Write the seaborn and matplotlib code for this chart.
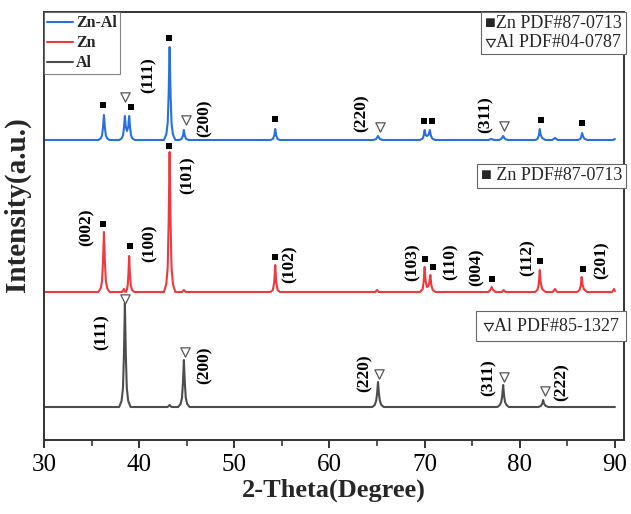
import matplotlib
matplotlib.use("Agg")
import matplotlib.pyplot as plt
from matplotlib.ticker import MultipleLocator
import seaborn as sns
import pandas as pd

# ---------------- data ----------------
samples = ["Zn-Al", "Zn", "Al"]
colors = {"Zn-Al": "#2a6fe0", "Zn": "#f0393c", "Al": "#4d4d4d"}
offsets = {"Zn-Al": 300, "Zn": 148, "Al": 33}

znal_2theta = [30.0,
               35.7, 35.95, 36.1, 36.2, 36.3, 36.4, 36.5, 36.65, 36.9,
               37.9, 38.15, 38.3, 38.4, 38.5, 38.6, 38.72, 38.85, 38.95, 39.05, 39.15, 39.3, 39.55,
               42.6, 42.85, 43.0, 43.1, 43.2, 43.3, 43.4, 43.55, 43.8,
               44.2, 44.45, 44.6, 44.7, 44.8, 44.95, 45.2,
               53.8, 54.05, 54.2, 54.3, 54.4, 54.55, 54.8,
               64.6, 64.9, 65.1, 65.3, 65.6,
               69.5, 69.8, 69.9, 70.0, 70.1, 70.25, 70.4, 70.55, 70.65, 70.8, 71.1,
               76.7, 77.0, 77.3,
               77.8, 78.05, 78.25, 78.45, 78.75,
               81.6, 81.85, 82.0, 82.1, 82.2, 82.35, 82.7,
               83.4, 83.7, 84.0,
               86.1, 86.35, 86.45, 86.55, 86.65, 86.8, 87.1,
               89.8, 90.0]
znal_intensity = [0,
                  0, 1.5, 4.5, 12.5, 25, 12.5, 4.5, 1.5, 0,
                  0, 1.5, 4.5, 12, 24, 13, 9, 13, 24, 12, 4.5, 1.5, 0,
                  0, 5.5, 17, 46, 93, 46, 17, 5.5, 0,
                  0, 1, 4, 10, 4, 1, 0,
                  0, 1, 4.5, 11, 4.5, 1, 0,
                  0, 1, 4, 1, 0,
                  0, 1.5, 4.5, 10, 5, 4, 5, 10, 4.5, 1.5, 0,
                  0, 1, 0,
                  0, 1, 4, 1, 0,
                  0, 1, 4.5, 11, 5, 2, 0,
                  0, 2, 0,
                  0, 1, 3, 7, 3.5, 1.2, 0,
                  0, 1]

zn_2theta = [30.0,
             35.7, 35.95, 36.1, 36.2, 36.3, 36.4, 36.5, 36.65, 36.9,
             38.2, 38.4, 38.55,
             38.6, 38.7, 38.8, 38.87, 38.95, 39.03, 39.12, 39.25, 39.5,
             42.6, 42.85, 43.0, 43.1, 43.2, 43.3, 43.4, 43.55, 43.8,
             44.5, 44.7, 44.9,
             53.8, 54.05, 54.2, 54.3, 54.4, 54.55, 54.8,
             64.8, 65.0, 65.2,
             69.5, 69.8, 69.9, 70.0, 70.1, 70.25, 70.4, 70.5, 70.6, 70.7, 70.85, 71.15,
             76.7, 76.9, 77.05, 77.2, 77.45,
             78.1, 78.3, 78.5,
             81.6, 81.85, 82.0, 82.1, 82.2, 82.35, 82.7,
             83.45, 83.7, 83.95,
             86.0, 86.25, 86.4, 86.5, 86.6, 86.75, 87.1,
             89.7, 89.9, 90.0]
zn_intensity = [0,
                0, 3.5, 11, 30, 60, 30, 11, 3.5, 0,
                0, 3, 0,
                0, 2, 7, 18, 36, 18, 7, 2, 0,
                0, 8, 25, 70, 140, 70, 25, 8, 0,
                0, 2, 0,
                0, 2, 10, 27, 10, 2, 0,
                0, 2, 0,
                0, 3, 11, 25, 11, 5, 6, 10, 17, 7, 2, 0,
                0, 2, 5, 2, 0,
                0, 2, 0,
                0, 2, 8, 22, 9, 3, 0,
                0, 3, 0,
                0, 1.5, 6, 15, 7, 2.5, 0,
                0, 3, 1]

al_2theta = [30.0,
             37.9, 38.15, 38.3, 38.4, 38.5, 38.6, 38.7, 38.85, 39.1,
             43.0, 43.2, 43.4,
             44.1, 44.35, 44.5, 44.6, 44.7, 44.8, 44.9, 45.05, 45.3,
             64.5, 64.75, 64.9, 65.0, 65.1, 65.2, 65.3, 65.45, 65.7,
             77.65, 77.9, 78.05, 78.15, 78.25, 78.35, 78.45, 78.6, 78.85,
             81.95, 82.2, 82.35, 82.45, 82.55, 82.7, 83.0,
             90.0]
al_intensity = [0,
                0, 6, 19, 52, 104, 52, 19, 6, 0,
                0, 2, 0,
                0, 3, 9, 24, 47, 24, 9, 3, 0,
                0, 2, 6, 13, 25, 13, 6, 2, 0,
                0, 2, 5, 11, 22, 11, 5, 2, 0,
                0, 1, 3, 7, 3.5, 1.2, 0,
                0]

# reference-phase markers (2-theta, height on the stacked axis)
zn_mark_2theta = [36.2, 39.1, 43.1, 54.3, 69.9, 70.8, 82.2, 86.5,
                  36.2, 39.0, 43.1, 54.3, 70.0, 70.9, 77.1, 82.1, 86.6]
zn_mark_y = [335, 333, 402, 321, 319, 319, 320, 317,
             216, 194, 294, 183, 181, 173, 161, 179, 171]
al_mark_2theta = [38.5, 44.9, 65.3, 78.3,
                  38.5, 44.8, 65.2, 78.3, 82.6]
al_mark_y = [343, 320, 313, 314,
             141, 88, 66, 63, 49]

# (hkl) labels
hkl_text = ["(111)", "(200)", "(220)", "(311)",
            "(002)", "(100)", "(101)", "(102)", "(103)", "(110)", "(004)", "(112)", "(201)",
            "(111)", "(200)", "(220)", "(311)", "(222)"]
hkl_2theta = [40.95, 46.9, 63.4, 76.4,
              34.5, 41.1, 45.1, 55.85, 68.7, 72.7, 75.5, 80.8, 88.6,
              36.1, 46.9, 63.7, 76.7, 84.4]
hkl_y = [365, 322, 327, 325,
         213, 197, 265, 176, 178, 178, 173, 182, 180,
         108, 75, 67, 62, 58]

# ---------------- figure ----------------
sns.set_theme(style="white")
plt.rcParams["font.family"] = ["Liberation Serif", "DejaVu Serif"]
plt.rcParams["mathtext.fontset"] = "stix"

rows = []
for name, xs, ys in [("Zn-Al", znal_2theta, znal_intensity),
                     ("Zn", zn_2theta, zn_intensity),
                     ("Al", al_2theta, al_intensity)]:
    for x, y in zip(xs, ys):
        rows.append({"sample": name, "two_theta": x,
                     "intensity": y + offsets[name]})
df = pd.DataFrame(rows)

fig = plt.figure(figsize=(6.31, 5.14), dpi=100)
ax = fig.add_axes([44 / 631, 1 - 440 / 514, 580 / 631, 428 / 514])

sns.lineplot(data=df, x="two_theta", y="intensity", hue="sample",
             hue_order=samples, palette=colors, sort=False, estimator=None,
             units="sample", linewidth=1.5, ax=ax)

sns.scatterplot(x=zn_mark_2theta, y=zn_mark_y, marker="s", s=22,
                color="black", edgecolor="black", linewidth=0, ax=ax,
                legend=False, zorder=5)
sns.scatterplot(x=al_mark_2theta, y=al_mark_y, marker="v", s=45,
                facecolor="white", edgecolor="#555555", linewidth=0.9,
                ax=ax, legend=False, zorder=5)

for t, x, y in zip(hkl_text, hkl_2theta, hkl_y):
    ax.text(x, y, t, rotation=90, ha="center", va="center",
            fontsize=12.5, fontweight="bold", color="black")

ax.set_xlim(30, 90.95)
ax.set_ylim(0, 428)
ax.set_yticks([])
ax.xaxis.set_major_locator(MultipleLocator(10))
ax.xaxis.set_minor_locator(MultipleLocator(5))
ax.tick_params(axis="x", which="major", direction="out", length=6, width=1.3,
               labelsize=18, colors="#222222", pad=4, bottom=True)
ax.tick_params(axis="x", which="minor", direction="out", length=4, width=1.1,
               bottom=True)
for lbl in ax.get_xticklabels():
    lbl.set_color("black")
for sp in ax.spines.values():
    sp.set_color("#333333")
    sp.set_linewidth(1.4)

ax.set_xlabel("2-Theta(Degree)", fontsize=19, fontweight="bold", labelpad=2)
ax.set_ylabel("Intensity(a.u.)", fontsize=21, fontweight="bold")
ax.yaxis.set_label_coords(-0.022, 0.55)

leg = ax.legend(loc="upper left", frameon=True, fancybox=False,
                borderaxespad=0.0, handlelength=1.6, handletextpad=0.2,
                labelspacing=0.25, borderpad=0.2,
                prop={"weight": "bold", "size": 11.5})
leg.get_frame().set_edgecolor("#666666")
leg.get_frame().set_linewidth(0.8)
leg.set_title(None)

box = dict(boxstyle="square,pad=0.2", facecolor="white",
           edgecolor="#666666", linewidth=0.8)
ax.text(0.997, 0.992, "■Zn PDF#87-0713\n$\\triangledown$Al PDF#04-0787",
        transform=ax.transAxes, ha="right", va="top", fontsize=13, bbox=box,
        linespacing=1.05)
ax.text(0.997, 0.617, "■ Zn PDF#87-0713", transform=ax.transAxes,
        ha="right", va="center", fontsize=13, bbox=box)
ax.text(0.993, 0.266, "$\\triangledown$Al PDF#85-1327", transform=ax.transAxes,
        ha="right", va="center", fontsize=13,
        bbox=dict(boxstyle="square,pad=0.35", facecolor="white",
                  edgecolor="#666666", linewidth=0.8))

fig.savefig("out.png", dpi=100)
